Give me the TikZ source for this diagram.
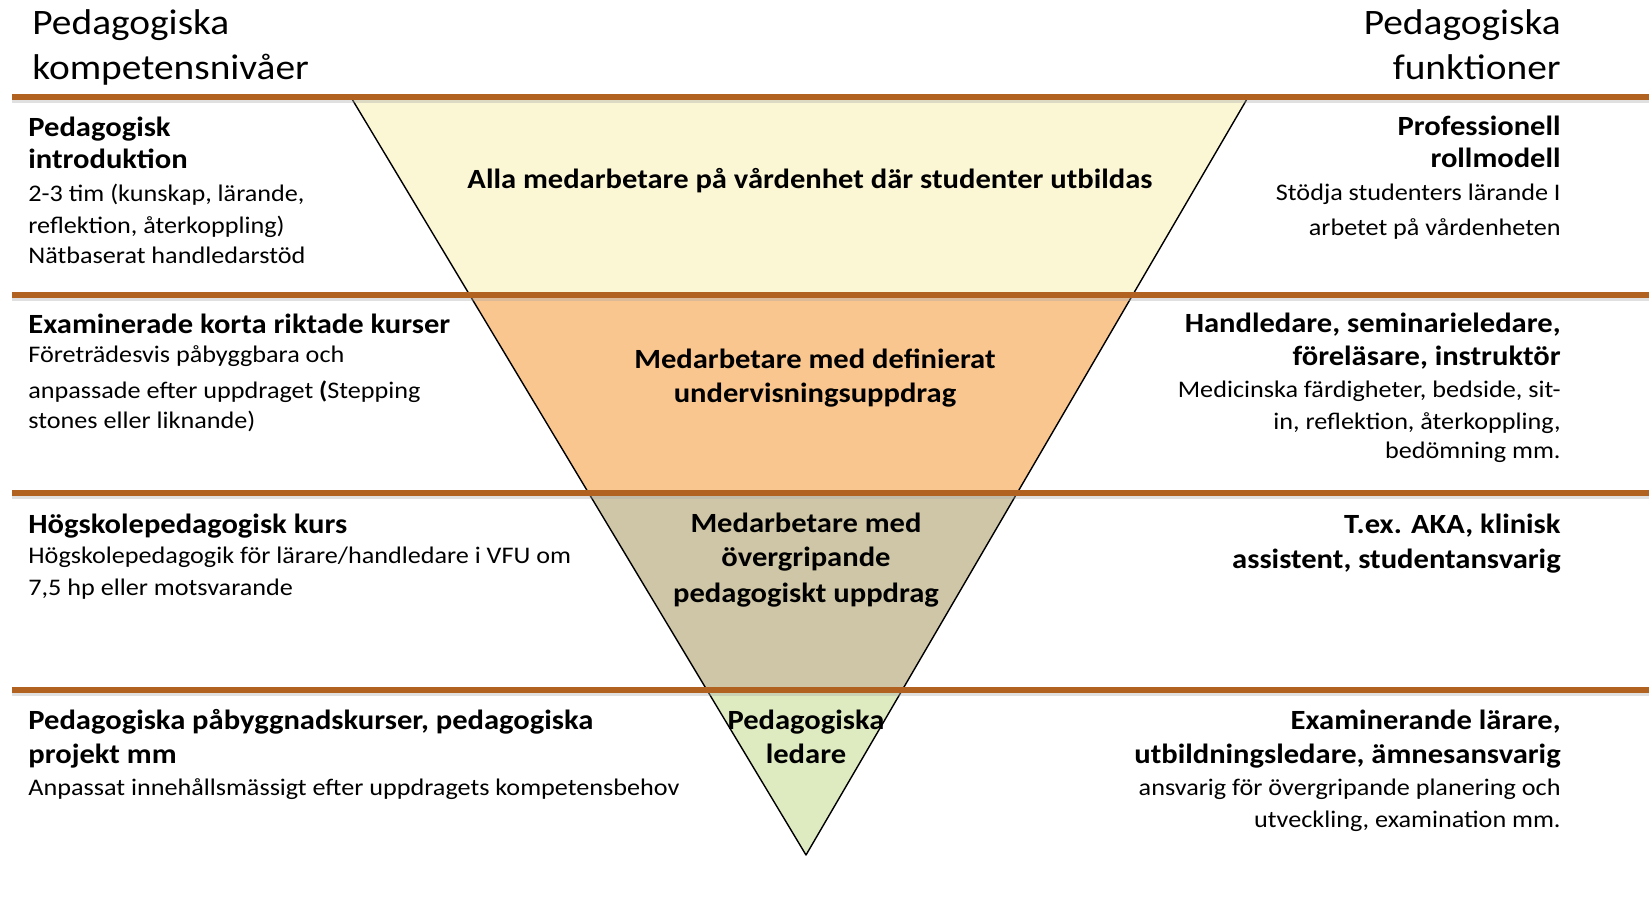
\documentclass[tikz,border=0pt]{standalone}
\usepackage{fontspec}
\setmainfont{Carlito}[FakeStretch=1.1]
\usetikzlibrary{calc}
\definecolor{rulebrown}{RGB}{178,98,32}
\definecolor{bandA}{RGB}{251,246,212}
\definecolor{bandB}{RGB}{249,198,143}
\definecolor{bandC}{RGB}{206,198,166}
\definecolor{bandD}{RGB}{222,234,192}
\begin{document}
\begin{tikzpicture}[x=0.5pt,y=-0.5pt,
  hdr/.style={inner sep=0pt,font=\fontsize{17.9}{22}\selectfont},
  hl/.style={hdr,anchor=base west},
  hr/.style={hdr,anchor=base east},
  bl/.style={inner sep=0pt,anchor=base west,font=\fontsize{13.9}{16}\selectfont\bfseries},
  br/.style={inner sep=0pt,anchor=base east,font=\fontsize{13.9}{16}\selectfont\bfseries},
  nl/.style={inner sep=0pt,anchor=base west,font=\fontsize{11.9}{14}\selectfont},
  nr/.style={inner sep=0pt,anchor=base east,font=\fontsize{11.9}{14}\selectfont},
  bc/.style={inner sep=0pt,anchor=base,font=\fontsize{13.9}{16}\selectfont\bfseries},
  rulel/.style={draw=rulebrown,line width=2.6pt},
  shadowl/.style={draw=black!35,line width=2pt,opacity=0.35},
  tri/.style={draw=black,line width=0.7pt,line join=round}
]
\useasboundingbox (0,0) rectangle (1649,899);
% triangle corners
\coordinate (T1) at (352,99);
\coordinate (T2) at (1247,99);
\coordinate (A) at (806,855);
\coordinate (L1) at ($(T1)!0.2593!(A)$);
\coordinate (R1) at ($(T2)!0.2593!(A)$);
\coordinate (L2) at ($(T1)!0.5212!(A)$);
\coordinate (R2) at ($(T2)!0.5212!(A)$);
\coordinate (L3) at ($(T1)!0.7817!(A)$);
\coordinate (R3) at ($(T2)!0.7817!(A)$);
% bands
\fill[bandA] (T1) -- (T2) -- (R1) -- (L1) -- cycle;
\fill[bandB] (L1) -- (R1) -- (R2) -- (L2) -- cycle;
\fill[bandC] (L2) -- (R2) -- (R3) -- (L3) -- cycle;
\fill[bandD] (L3) -- (R3) -- (A) -- cycle;
\draw[tri] (T1) -- (A) -- (T2);
% horizontal rules
\foreach \yy in {97,295,493,690}{
  \draw[shadowl] (12,\yy+4) -- (1649,\yy+4);
  \draw[rulel] (12,\yy) -- (1649,\yy);
}
% headers
\node[hl] (hl1) at (32,35) {Pedagogiska};
\node[hl] (hl2) at (32,80) {kompetensnivåer};
\node[hr] (hr1) at (1561,35) {Pedagogiska};
\node[hr] (hr2) at (1561,80) {funktioner};
% band 1
\node[bl] (a1) at (28,136) {Pedagogisk};
\node[bl] (a2) at (28,169) {introduktion};
\node[nl] (a3) at (28,201) {2-3 tim (kunskap, lärande,};
\node[nl] (a4) at (28,233) {reflektion, återkoppling)};
\node[nl] (a5) at (28,263) {Nätbaserat handledarstöd};
\node[br] (b1) at (1561,135) {Professionell};
\node[br] (b2) at (1561,168) {rollmodell};
\node[nr] (b3) at (1561,200) {Stödja studenters lärande I};
\node[nr] (b4) at (1561,235) {arbetet på vårdenheten};
\node[bc] (c1) at (810,188) {Alla medarbetare på vårdenhet där studenter utbildas};
% band 2
\node[bl] (d1) at (28,333) {Examinerade korta riktade kurser};
\node[nl] (d2) at (28,362) {Företrädesvis påbyggbara och};
\node[nl] (d3) at (28,398) {anpassade efter uppdraget \textbf{(}Stepping};
\node[nl] (d4) at (28,428) {stones eller liknande)};
\node[br] (e1) at (1561,332) {Handledare, seminarieledare,};
\node[br] (e2) at (1561,365) {föreläsare, instruktör};
\node[nr] (e3) at (1561,397) {Medicinska färdigheter, bedside, sit-};
\node[nr] (e4) at (1561,429) {in, reflektion, återkoppling,};
\node[nr] (e5) at (1561,458) {bedömning mm.};
\node[bc] (f1) at (815,368) {Medarbetare med definierat};
\node[bc] (f2) at (815,402) {undervisningsuppdrag};
% band 3
\node[bl] (g1) at (28,533) {Högskolepedagogisk kurs};
\node[nl] (g2) at (28,563) {Högskolepedagogik för lärare/handledare i VFU om};
\node[nl] (g3) at (28,595) {7,5 hp eller motsvarande};
\node[br] (h1) at (1561,533) {T.ex. AKA, klinisk};
\node[br] (h2) at (1561,568) {assistent, studentansvarig};
\node[bc] (i1) at (806,532) {Medarbetare med};
\node[bc] (i2) at (806,566) {övergripande};
\node[bc] (i3) at (806,602) {pedagogiskt uppdrag};
% band 4
\node[bl] (j1) at (28,729) {Pedagogiska påbyggnadskurser, pedagogiska};
\node[bl] (j2) at (28,763) {projekt mm};
\node[nl] (j3) at (28,795) {Anpassat innehållsmässigt efter uppdragets kompetensbehov};
\node[br] (k1) at (1561,729) {Examinerande lärare,};
\node[br] (k2) at (1561,763) {utbildningsledare, ämnesansvarig};
\node[nr] (k3) at (1561,795) {ansvarig för övergripande planering och};
\node[nr] (k4) at (1561,827) {utveckling, examination mm.};
\node[bc] (m1) at (806,729) {Pedagogiska};
\node[bc] (m2) at (806,763) {ledare};
\end{tikzpicture}
\end{document}
